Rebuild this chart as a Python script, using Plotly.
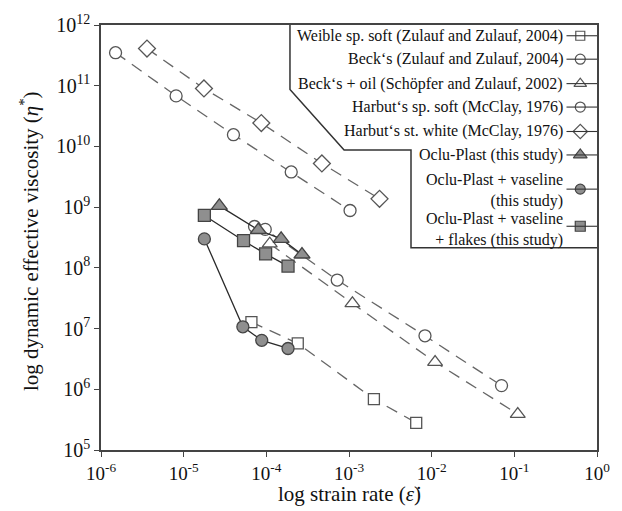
import plotly.graph_objects as go

# Strain rate (1/s) and dynamic effective viscosity (Pa s) per material
weible_rate = [6.6e-5, 2.4e-4, 2.0e-3, 6.5e-3]
weible_visc = [1.28e7, 5.7e6, 6.9e5, 2.8e5]
becks_rate = [7.2e-5, 9.7e-5, 7.2e-4, 8.3e-3, 7.0e-2]
becks_visc = [4.8e8, 4.3e8, 6.3e7, 7.6e6, 1.15e6]
becks_oil_rate = [1.1e-4, 1.1e-3, 1.1e-2, 1.1e-1]
becks_oil_visc = [2.5e8, 2.6e7, 2.8e6, 3.9e5]
harbut_soft_rate = [1.5e-6, 8.1e-6, 4.0e-5, 2.0e-4, 1.03e-3]
harbut_soft_visc = [3.5e11, 6.8e10, 1.56e10, 3.8e9, 8.8e8]
harbut_white_rate = [3.6e-6, 1.76e-5, 8.7e-5, 4.7e-4, 2.34e-3]
harbut_white_visc = [4.1e11, 9.0e10, 2.43e10, 5.25e9, 1.37e9]
oclu_rate = [2.7e-5, 8.0e-5, 1.51e-4, 2.7e-4]
oclu_visc = [1.05e9, 4.2e8, 3.0e8, 1.66e8]
oclu_vas_rate = [1.78e-5, 5.2e-5, 8.8e-5, 1.83e-4]
oclu_vas_visc = [3.0e8, 1.07e7, 6.4e6, 4.7e6]
oclu_flk_rate = [1.78e-5, 5.3e-5, 9.8e-5, 1.83e-4]
oclu_flk_visc = [7.3e8, 2.8e8, 1.7e8, 1.07e8]

labels = [
    "Weible sp. soft (Zulauf and Zulauf, 2004)",
    "Beck‘s (Zulauf and Zulauf, 2004)",
    "Beck‘s + oil (Schöpfer and Zulauf, 2002)",
    "Harbut‘s sp. soft (McClay, 1976)",
    "Harbut‘s st. white (McClay, 1976)",
    "Oclu-Plast (this study)",
    "Oclu-Plast + vaseline<br>(this study)",
    "Oclu-Plast + vaseline<br>+ flakes (this study)",
]

x_tick_exp = [-6, -5, -4, -3, -2, -1, 0]
y_tick_exp = [5, 6, 7, 8, 9, 10, 11, 12]

FONT = "Liberation Serif"
OPEN_EDGE = "#555555"
FILL = "#8f8f8f"
DARK = "#2a2a2a"

series = [
    # (x, y, symbol, size, fill, edge, line dash, line colour)
    (weible_rate, weible_visc, "square", 11, "white", OPEN_EDGE, "12px,8px", "#666666"),
    (becks_rate, becks_visc, "circle", 12, "white", OPEN_EDGE, "12px,8px", "#666666"),
    (becks_oil_rate, becks_oil_visc, "triangle-up", 13, "white", OPEN_EDGE, "12px,8px", "#666666"),
    (harbut_soft_rate, harbut_soft_visc, "circle", 12, "white", OPEN_EDGE, "12px,8px", "#666666"),
    (harbut_white_rate, harbut_white_visc, "diamond", 13, "white", OPEN_EDGE, "12px,8px", "#666666"),
    (oclu_rate, oclu_visc, "triangle-up", 14, FILL, "#444444", "solid", DARK),
    (oclu_vas_rate, oclu_vas_visc, "circle", 12, FILL, "#444444", "solid", DARK),
    (oclu_flk_rate, oclu_flk_visc, "square", 12, FILL, "#444444", "solid", DARK),
]

fig = go.Figure()

for (xs, ys, sym, size, fill, edge, dash, lcol), name in zip(series, labels):
    fig.add_trace(go.Scatter(
        x=xs, y=ys, mode="lines+markers", name=name, showlegend=False,
        line=dict(color=lcol, width=1.3, dash=dash),
        marker=dict(symbol=sym, size=size, color=fill,
                    line=dict(color=edge, width=1.3)),
    ))

# Hand-built key in the upper right corner, drawn on an overlay axis in paper units
plot_left, plot_right, plot_top, plot_bottom = 101, 605, 15, 450
def px_x(v):
    return (v - plot_left) / (plot_right - plot_left)
def px_y(v):
    return (plot_bottom - v) / (plot_bottom - plot_top)

row_marker_y = [26, 50, 75, 99, 124, 148, 183, 221]
row_text_y = [26, 50, 75, 99, 124, 148, 184, 224]
text_right = px_x(572)
sample_x0, sample_x1, sample_xm = px_x(574), px_x(605), px_x(588)

for (xs, ys, sym, size, fill, edge, dash, lcol), name, my, ty in zip(
        series, labels, row_marker_y, row_text_y):
    fig.add_annotation(
        x=text_right, y=px_y(ty), xref="paper", yref="paper",
        text=name, showarrow=False, xanchor="right", yanchor="middle",
        align="right", font=dict(family=FONT, size=16, color="#111111"),
    )
    fig.add_shape(type="line", xref="paper", yref="paper",
                  x0=sample_x0, x1=sample_x1, y0=px_y(my), y1=px_y(my),
                  line=dict(color="#333333", width=1.1))
    fig.add_trace(go.Scatter(
        x=[sample_xm], y=[px_y(my)], xaxis="x2", yaxis="y2", mode="markers",
        showlegend=False, hoverinfo="skip",
        marker=dict(symbol=sym, size=size - 2, color=fill,
                    line=dict(color=edge, width=1.2)),
    ))

# Outline of the key box
box = [(293, 15), (293, 81), (348, 143), (416, 143), (416, 243), (605, 243)]
path = "M " + " L ".join(f"{px_x(a):.4f},{px_y(b):.4f}" for a, b in box)
fig.add_shape(type="path", xref="paper", yref="paper", path=path,
              line=dict(color="#333333", width=1.5))

# Axis titles
fig.add_annotation(
    x=0.5, y=px_y(495), xref="paper", yref="paper", showarrow=False,
    text="log strain rate (<i>ε̇</i>)", xanchor="center", yanchor="middle",
    borderpad=0, font=dict(family=FONT, size=21, color="#111111"),
)
fig.add_annotation(
    x=px_x(29), y=px_y(236), xref="paper", yref="paper", showarrow=False,
    text="log dynamic effective viscosity (<i>η</i><sup>*</sup>)", textangle=-90,
    xanchor="center", yanchor="middle",
    font=dict(family=FONT, size=21, color="#111111"),
)

fig.update_layout(
    width=622, height=511,
    margin=dict(l=plot_left, r=622 - plot_right, t=plot_top, b=511 - plot_bottom),
    paper_bgcolor="white", plot_bgcolor="white",
    font=dict(family=FONT, color="#111111"),
    xaxis=dict(
        type="log", range=[-6, 0],
        tickvals=[10.0 ** e for e in x_tick_exp],
        ticktext=[f"10<sup>{e}</sup>" for e in x_tick_exp],
        ticks="outside", ticklen=5, tickwidth=1.3, tickcolor="#444444",
        showline=True, linecolor="#444444", linewidth=1.5, mirror=True,
        showgrid=False, zeroline=False,
        tickfont=dict(family=FONT, size=19, color="#111111"),
    ),
    yaxis=dict(
        type="log", range=[5, 12],
        tickvals=[10.0 ** e for e in y_tick_exp],
        ticktext=[f"10<sup>{e}</sup>" for e in y_tick_exp],
        ticks="outside", ticklen=5, tickwidth=1.3, tickcolor="#444444",
        showline=True, linecolor="#444444", linewidth=1.5, mirror=True,
        showgrid=False, zeroline=False,
        tickfont=dict(family=FONT, size=20, color="#111111"),
    ),
    xaxis2=dict(overlaying="x", range=[0, 1], visible=False, domain=[0, 1]),
    yaxis2=dict(overlaying="y", range=[0, 1], visible=False, domain=[0, 1]),
)

fig.write_html("out.html")
